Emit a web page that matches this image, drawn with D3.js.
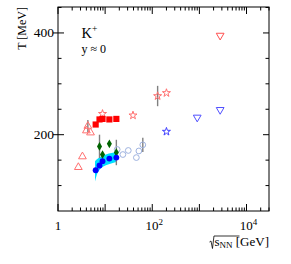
<!DOCTYPE html>
<html>
<head>
<meta charset="utf-8">
<script src="https://cdn.jsdelivr.net/npm/d3@7"></script>
<style>
body { margin: 0; background: #fff; }
text { font-family: "Liberation Serif", "Times New Roman", serif; fill: #000; }
</style>
</head>
<body>
<svg width="291" height="264"></svg>
<script>
// K+ temperature vs sqrt(s_NN)

// AGS / SIS, red open triangles
var agsE = [2.7, 3.3, 4.0, 4.3, 4.9];
var agsT = [136, 157, 208, 217, 204];
var agsErr = [0, 0, 0, 12, 0];

// SPS energy scan, red filled squares
var spsE = [6.3, 7.6, 8.8, 12.3, 17.3];
var spsT = [220, 230, 231, 230, 231];
var spsErr = [3, 3, 3, 4, 3];

// red open stars
var starE = [8.8, 39, 130, 200];
var starT = [241, 238, 276, 282];
var starErr = [0, 0, 20, 0];

// blue open star
var bstarE = [200];
var bstarT = [206];

// red open inverted triangle
var rtriE = [2760];
var rtriT = [395];

// blue open inverted triangles
var btriE = [900, 2760];
var btriT = [234, 249];

// blue filled circles
var bcircE = [6.3, 7.6, 8.8, 12.3, 17.3];
var bcircT = [130, 139.5, 148, 153, 155];

// green filled diamonds
var diaE = [7.6, 8.8, 12.3, 17.3];
var diaT = [177, 161, 182, 165];
var diaErr = [23, 0, 5, 25];

// light open circles
var ocircE = [18, 23.8, 31, 46, 52, 63];
var ocircT = [171, 161, 169, 155, 168, 180];
var ocircErr = [0, 0, 0, 0, 0, 14];

// cyan band
var bandE = [6.1, 6.6, 7.5, 9.0, 12.0, 17.8];
var bandHi = [148, 151, 155, 159, 163, 166];
var bandLo = [108, 120, 130, 137, 142, 147];

var xTickLabels = [{v: 1, base: '1', sup: ''}, {v: 100, base: '10', sup: '2'}, {v: 10000, base: '10', sup: '4'}];
var yTickLabels = [200, 400];

var svg = d3.select('svg');
var pLeft = 58, pRight = 269, pTop = 7, pBottom = 211;

var x = d3.scaleLog().domain([1, 30000]).range([pLeft, pRight]);
var y = d3.scaleLinear().domain([50, 451]).range([pBottom, pTop]);

function zip(es, ts, errs) {
  return es.map(function(e, i) { return {e: e, t: ts[i], err: errs ? errs[i] : 0}; });
}

// band
var band = bandE.map(function(e, i) { return {e: e, hi: bandHi[i], lo: bandLo[i]}; });
svg.append('path')
  .datum(band)
  .attr('fill', '#00e0ff')
  .attr('d', d3.area()
    .x(function(d) { return x(d.e); })
    .y0(function(d) { return y(d.lo); })
    .y1(function(d) { return y(d.hi); })
    .curve(d3.curveMonotoneX));

// error bars
var errData = [].concat(zip(agsE, agsT, agsErr), zip(spsE, spsT, spsErr), zip(starE, starT, starErr),
  zip(diaE, diaT, diaErr), zip(ocircE, ocircT, ocircErr)).filter(function(d) { return d.err > 0; });
svg.append('g')
  .selectAll('line.err')
  .data(errData)
  .enter()
    .append('line')
    .classed('err', true)
    .attr('x1', function(d) { return x(d.e); })
    .attr('x2', function(d) { return x(d.e); })
    .attr('y1', function(d) { return y(d.t - d.err); })
    .attr('y2', function(d) { return y(d.t + d.err); })
    .attr('stroke', '#808080')
    .attr('stroke-width', 1.4);

function markers(data, type, size, fill, stroke, rot) {
  svg.append('g')
    .selectAll('path')
    .data(data)
    .enter()
      .append('path')
      .attr('d', d3.symbol().type(type).size(size))
      .attr('transform', function(d) {
        return 'translate(' + x(d.e) + ',' + y(d.t) + ')' + (rot ? ' rotate(' + rot + ')' : '');
      })
      .attr('fill', fill)
      .attr('stroke', stroke)
      .attr('stroke-width', 1);
}

markers(zip(ocircE, ocircT), d3.symbolCircle, 26, 'none', '#9fb3e0');
markers(zip(agsE, agsT), d3.symbolTriangle, 26, 'none', '#ff7070');
markers(zip(starE, starT), d3.symbolStar, 20, 'none', '#ff7070');
markers(zip(spsE, spsT), d3.symbolSquare, 38, '#ff0000', 'none');
markers(zip(diaE, diaT), d3.symbolDiamond, 22, '#006400', 'none');
markers(zip(bcircE, bcircT), d3.symbolCircle, 27, '#0000ff', 'none');
markers(zip(bstarE, bstarT), d3.symbolStar, 20, 'none', '#4040ff');
markers(zip(rtriE, rtriT), d3.symbolTriangle, 26, 'none', '#ff5050', 180);
markers(zip(btriE, btriT), d3.symbolTriangle, 26, 'none', '#5050ff', 180);

// frame
svg.append('rect')
  .attr('x', pLeft).attr('y', pTop)
  .attr('width', pRight - pLeft).attr('height', pBottom - pTop)
  .attr('fill', 'none').attr('stroke', '#000').attr('stroke-width', 1);

// x ticks
var xTicks = [];
for (var p = 0; p <= 4; p++) {
  for (var m = 1; m <= 9; m++) {
    var v = m * Math.pow(10, p);
    if (v <= 30000) xTicks.push({v: v, major: m === 1});
  }
}
var ticks = svg.append('g').attr('stroke', '#000').attr('stroke-width', 1);
xTicks.forEach(function(t) {
  var len = t.major ? 7 : 3.5;
  ticks.append('line').attr('x1', x(t.v)).attr('x2', x(t.v)).attr('y1', pBottom).attr('y2', pBottom - len);
  ticks.append('line').attr('x1', x(t.v)).attr('x2', x(t.v)).attr('y1', pTop).attr('y2', pTop + len);
});

// y ticks
d3.range(100, 451, 50).forEach(function(v) {
  var major = v % 200 === 0;
  var len = major ? 6 : 3.5;
  ticks.append('line').attr('y1', y(v)).attr('y2', y(v)).attr('x1', major ? pLeft - 5 : pLeft).attr('x2', pLeft + len);
  ticks.append('line').attr('y1', y(v)).attr('y2', y(v)).attr('x1', pRight).attr('x2', pRight - len);
});

// tick labels
svg.append('g')
  .selectAll('text')
  .data(yTickLabels)
  .enter()
    .append('text')
    .attr('x', pLeft - 4)
    .attr('y', function(d) { return y(d) + 4.5; })
    .attr('text-anchor', 'end')
    .attr('font-size', 13.5)
    .text(function(d) { return d; });

var xl = svg.append('g')
  .selectAll('text')
  .data(xTickLabels)
  .enter()
    .append('text')
    .attr('x', function(d) { return x(d.v) + (d.sup ? 2 : 0); })
    .attr('y', 230)
    .attr('text-anchor', 'middle')
    .attr('font-size', 13);
xl.append('tspan').text(function(d) { return d.base; });
xl.append('tspan').attr('dy', -5.5).attr('font-size', 9).text(function(d) { return d.sup; });

// axis titles
svg.append('text')
  .attr('transform', 'translate(25.5,' + pTop + ') rotate(-90)')
  .attr('text-anchor', 'end')
  .attr('font-size', 12)
  .text('T [MeV]');

var xt = svg.append('text')
  .attr('x', pRight)
  .attr('y', 245.5)
  .attr('text-anchor', 'end')
  .attr('font-size', 13);
xt.append('tspan').text('s');
xt.append('tspan').attr('font-size', 9).attr('dy', 2).text('NN');
xt.append('tspan').attr('dy', -2).text(' [GeV]');

// square-root sign drawn from the label box
var bb = xt.node().getBBox();
var sx = bb.x, sTop = 236;
svg.append('path')
  .attr('d', 'M' + (sx - 5) + ',242 L' + (sx - 3.5) + ',241 L' + (sx - 2) + ',248.5 L' + (sx - 0.5) + ',' + sTop + ' L' + (sx + 25) + ',' + sTop)
  .attr('fill', 'none')
  .attr('stroke', '#000')
  .attr('stroke-width', 0.8);

// in-plot labels
var kl = svg.append('text').attr('x', 81.5).attr('y', 37.5).attr('font-size', 14.5);
kl.append('tspan').text('K');
kl.append('tspan').attr('dy', -5.5).attr('font-size', 9.5).text('+');

svg.append('text').attr('x', 81.5).attr('y', 53).attr('font-size', 12).text('y \u2248 0');
</script>
</body>
</html>
